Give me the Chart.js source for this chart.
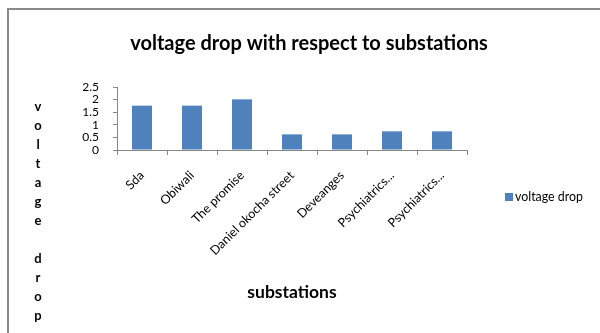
<!DOCTYPE html>
<html>
<head>
<meta charset="utf-8">
<script src="https://cdn.jsdelivr.net/npm/chart.js@4/dist/chart.umd.min.js"></script>
<style>
  html, body { margin: 0; padding: 0; background: #ffffff; }
  #wrap { position: relative; width: 600px; height: 333px; }
</style>
</head>
<body>
<div id="wrap"><canvas id="c" width="600" height="333"></canvas></div>
<script>
// Substations and their measured voltage drop
const substations = ['Sda', 'Obiwali', 'The promise', 'Daniel okocha street', 'Deveanges', 'Psychiatrics...', 'Psychiatrics...'];
const voltageDrop = [1.76, 1.76, 2.01, 0.62, 0.62, 0.74, 0.74];
const seriesName = 'voltage drop';
const chartTitle = 'voltage drop with respect to substations';
const xAxisTitle = 'substations';
const yAxisTitle = 'voltage drop';
const yTickStep = 0.5;
const yMax = 2.5;

const FONT = 'Lato, "Open Sans", sans-serif';
const AXIS_GREY = '#868686';
const BAR_BLUE = '#4F81BD';

// Titles, stacked y-axis caption, legend and outer frame
const decorations = {
  id: 'decorations',
  beforeDraw(chart) {
    const ctx = chart.ctx;
    ctx.save();
    ctx.strokeStyle = '#8a8a8a';
    ctx.lineWidth = 2;
    ctx.beginPath();
    ctx.moveTo(8, 340);
    ctx.lineTo(8, 9);
    ctx.lineTo(610, 9);
    ctx.stroke();
    ctx.restore();
  },
  afterDraw(chart) {
    const ctx = chart.ctx;
    ctx.save();
    ctx.fillStyle = '#000';
    ctx.textAlign = 'center';
    ctx.textBaseline = 'middle';

    ctx.font = 'bold 20px ' + FONT;
    ctx.fillText(chartTitle, 309, 44);

    ctx.font = 'bold 17.5px ' + FONT;
    ctx.fillText(xAxisTitle, 292, 292);

    ctx.font = 'bold 13px ' + FONT;
    const letters = yAxisTitle.split('');
    letters.forEach((ch, i) => {
      if (ch.trim()) ctx.fillText(ch, 38, 107 + i * 19);
    });

    // legend
    const ds = chart.data.datasets[0];
    ctx.fillStyle = ds.backgroundColor;
    ctx.fillRect(505, 193, 8, 8);
    ctx.fillStyle = '#000';
    ctx.textAlign = 'left';
    ctx.font = '12.4px ' + FONT;
    ctx.fillText(ds.label, 515, 197);
    ctx.restore();
  }
};

new Chart(document.getElementById('c'), {
  type: 'bar',
  data: {
    labels: substations,
    datasets: [{
      label: seriesName,
      data: voltageDrop,
      backgroundColor: BAR_BLUE,
      borderWidth: 0,
      barPercentage: 0.4,
      categoryPercentage: 1.0
    }]
  },
  options: {
    responsive: false,
    animation: false,
    devicePixelRatio: 1,
    layout: { padding: { top: 87, right: 133, bottom: 0, left: 0 } },
    plugins: {
      legend: { display: false },
      title: { display: false },
      tooltip: { enabled: false }
    },
    scales: {
      x: {
        offset: true,
        grid: { display: true, drawOnChartArea: false, offset: true, tickLength: 5, color: AXIS_GREY },
        border: { color: AXIS_GREY, width: 1 },
        ticks: {
          autoSkip: false, minRotation: 45, maxRotation: 45,
          color: '#000', padding: 13,
          font: { family: FONT, size: 12.5 }
        },
        afterFit(scale) { scale.height = 183; }
      },
      y: {
        min: 0, max: yMax,
        grid: { display: true, drawOnChartArea: false, tickLength: 4, color: AXIS_GREY },
        border: { color: AXIS_GREY, width: 1 },
        ticks: {
          stepSize: yTickStep, autoSkip: false,
          color: '#000', padding: 14, font: { family: FONT, size: 12 },
          callback: (v) => String(v)
        },
        afterFit(scale) { scale.width = 117; }
      }
    }
  },
  plugins: [decorations]
});
</script>
</body>
</html>
